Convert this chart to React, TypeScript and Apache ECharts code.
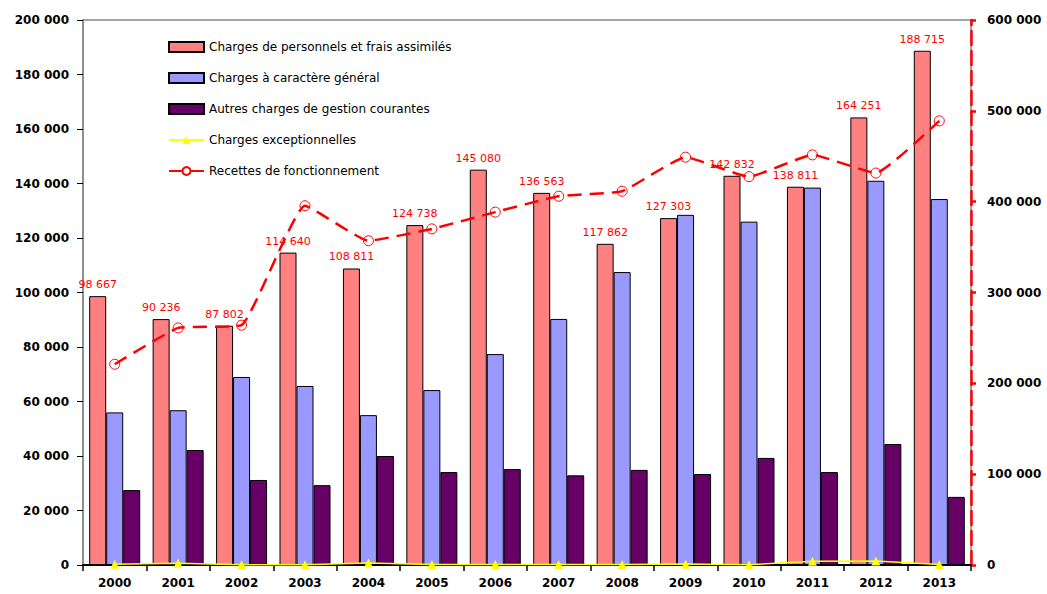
import React, { useEffect, useRef } from "react";
import * as echarts from "echarts";

const years = ["2000","2001","2002","2003","2004","2005","2006","2007","2008","2009","2010","2011","2012","2013"];
const personnel = [98667, 90236, 87802, 114640, 108811, 124738, 145080, 136563, 117862, 127303, 142832, 138811, 164251, 188715];
const general = [56000, 56800, 69000, 65700, 55000, 64200, 77400, 90300, 107500, 128500, 126000, 138500, 141000, 134300];
const autres = [27500, 42200, 31200, 29300, 40000, 34100, 35200, 32900, 34900, 33400, 39300, 34100, 44400, 25000];
const exceptionnelles = [300, 600, 100, 100, 700, 200, 200, 200, 200, 400, 100, 1400, 1500, 200];
const recettes = [221000, 261000, 264000, 395500, 357000, 370000, 388500, 406000, 411500, 449000, 427500, 451500, 431500, 489000];

const leftTicks = { min: 0, max: 200000, interval: 20000 };
const rightTicks = { min: 0, max: 600000, interval: 100000 };

const fmt = (v: number) => String(Math.round(v)).replace(/\B(?=(\d{3})+(?!\d))/g, " ");
const FONT = "DejaVu Sans";

export default function App() {
  const ref = useRef<HTMLDivElement>(null);
  useEffect(() => {
    if (!ref.current) return;
    const chart = echarts.init(ref.current, undefined, { renderer: "svg" });
    chart.setOption({
      animation: false,
      backgroundColor: "#ffffff",
      textStyle: { fontFamily: FONT },
      grid: { left: 83, right: 76, top: 20, bottom: 29, show: true, borderColor: "#888888", borderWidth: 1.5 },
      legend: {
        orient: "vertical",
        left: 163,
        top: 36,
        itemWidth: 35,
        itemHeight: 10,
        itemGap: 19,
        textStyle: { fontFamily: FONT, fontSize: 12, color: "#000" },
        data: [
          { name: "Charges de personnels et frais assimilés", icon: "rect" },
          { name: "Charges à caractère général", icon: "rect" },
          { name: "Autres charges de gestion courantes", icon: "rect" },
          "Charges exceptionnelles",
          "Recettes de fonctionnement",
        ],
      },
      xAxis: {
        type: "category",
        data: years,
        axisLine: { lineStyle: { color: "#000", width: 2 } },
        axisTick: { show: true, length: 6, lineStyle: { color: "#000", width: 1.5 } },
        axisLabel: { color: "#000", fontSize: 12, fontWeight: "bold", fontFamily: FONT, margin: 12 },
      },
      yAxis: [
        {
          type: "value",
          ...leftTicks,
          position: "left",
          splitLine: { show: false },
          axisLine: { show: true, lineStyle: { color: "#888", width: 1.5 } },
          axisTick: { show: true, length: 6, lineStyle: { color: "#000", width: 1 } },
          axisLabel: { color: "#000", fontSize: 12, fontWeight: "bold", fontFamily: FONT, margin: 14, formatter: fmt },
        },
        {
          type: "value",
          ...rightTicks,
          position: "right",
          splitLine: { show: false },
          axisLine: { show: true, lineStyle: { color: "#ff0000", width: 2.5, type: [14, 6] } },
          axisTick: { show: true, length: 5, lineStyle: { color: "#ff0000", width: 2.5 } },
          axisLabel: { color: "#000", fontSize: 12, fontWeight: "bold", fontFamily: FONT, margin: 16, formatter: fmt },
        },
      ],
      series: [
        {
          name: "Charges de personnels et frais assimilés",
          type: "bar",
          data: personnel,
          barWidth: 17,
          barGap: "0%",
          itemStyle: { color: "#ff8080", borderColor: "#000", borderWidth: 1 },
          label: {
            show: true,
            position: "top",
            distance: 6,
            color: "#ff0000",
            fontSize: 11,
            fontFamily: FONT,
            formatter: (p: any) => fmt(p.value),
          },
        },
        {
          name: "Charges à caractère général",
          type: "bar",
          data: general,
          barWidth: 17,
          barGap: "0%",
          itemStyle: { color: "#9999ff", borderColor: "#000", borderWidth: 1 },
        },
        {
          name: "Autres charges de gestion courantes",
          type: "bar",
          data: autres,
          barWidth: 17,
          barGap: "0%",
          itemStyle: { color: "#660066", borderColor: "#000", borderWidth: 1 },
        },
        {
          name: "Charges exceptionnelles",
          type: "line",
          data: exceptionnelles,
          symbol: "triangle",
          symbolSize: 9,
          lineStyle: { color: "#ffff00", width: 1.5 },
          itemStyle: { color: "#ffff00" },
          z: 5,
        },
        {
          name: "Recettes de fonctionnement",
          type: "line",
          yAxisIndex: 1,
          data: recettes,
          smooth: 0.12,
          symbol: "circle",
          symbolSize: 10,
          lineStyle: { color: "#ff0000", width: 2.5, type: [14, 8] },
          itemStyle: { color: "transparent", borderColor: "#ff0000", borderWidth: 1 },
          z: 6,
        },
      ],
    });
    return () => chart.dispose();
  }, []);
  return <div ref={ref} style={{ position: "fixed", left: 0, top: 0, width: 1047, height: 594 }} />;
}
